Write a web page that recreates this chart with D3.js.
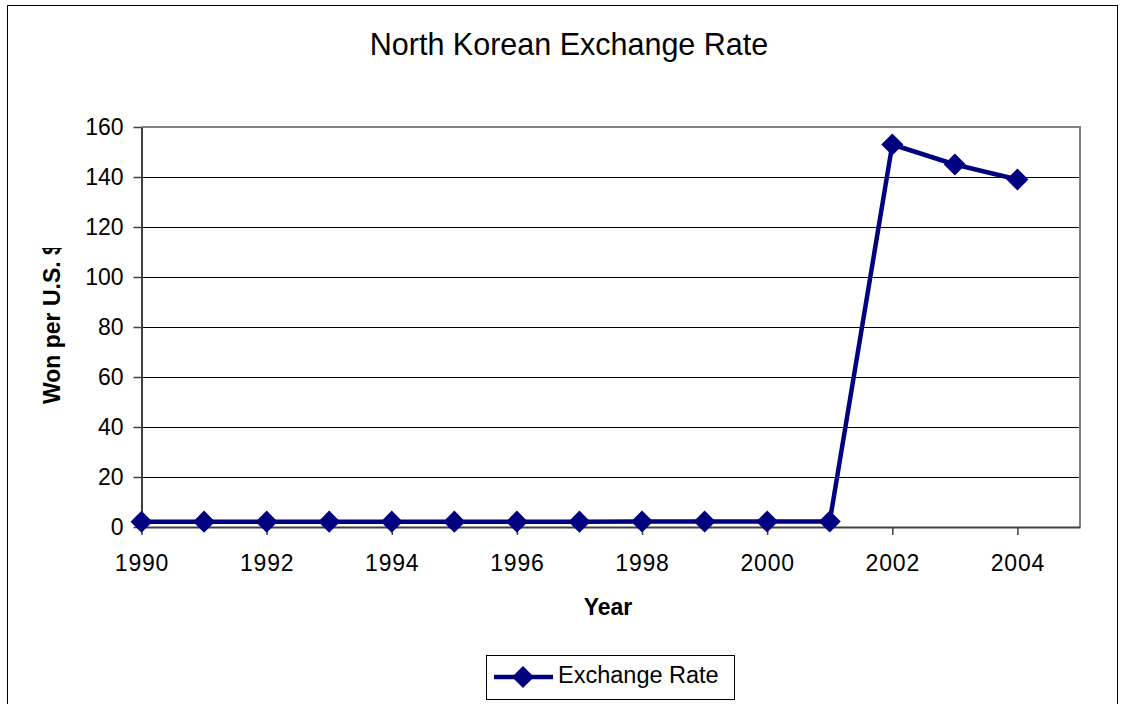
<!DOCTYPE html>
<html>
<head>
<meta charset="utf-8">
<script src="https://cdn.jsdelivr.net/npm/d3@7"></script>
<style>
body { margin:0; background:#fff; }
text { font-family: "Liberation Sans", Arial, sans-serif; }
</style>
</head>
<body>
<div id="chart"></div>
<script>

// Data

var years = [1990,1991,1992,1993,1994,1995,1996,1997,1998,1999,2000,2001,2002,2003,2004];
var rates = [2.1,2.15,2.15,2.15,2.15,2.15,2.15,2.15,2.2,2.17,2.19,2.2,153,145,139];
var yTicks = [0,20,40,60,80,100,120,140,160];
var xTicks = [1990,1992,1994,1996,1998,2000,2002,2004];

var W = 1121, H = 704;
var pLeft = 141.5, pRight = 1080, pTop = 127, pBottom = 527;
var navy = "#000080";

var svg = d3.select("#chart").append("svg")
	.attr("width",W).attr("height",H);

svg.append("rect").attr("width",W).attr("height",H).attr("fill","#fff");

// outer chart border
svg.append("rect").attr("x",7.5).attr("y",5.5).attr("width",1110).attr("height",720)
	.style("fill","none").style("stroke","#000").style("stroke-width",1);

var X = d3.scaleLinear().domain([1990,2005]).range([pLeft,pRight]);
var Y = d3.scaleLinear().domain([0,160]).range([pBottom,pTop]);

// gridlines
svg.selectAll(".grid").data(yTicks.filter(function(d){return d>0 && d<160})).enter().append("line")
	.attr("x1",pLeft).attr("x2",pRight)
	.attr("y1",function(d){return Math.round(Y(d))+0.5}).attr("y2",function(d){return Math.round(Y(d))+0.5})
	.style("stroke","#000").style("stroke-width",1);

// plot border top & right
svg.append("path").attr("d","M"+pLeft+","+pTop+"H"+pRight+"V"+pBottom)
	.style("fill","none").style("stroke","#808080").style("stroke-width",2);

// axes
var yAxis = svg.append("g").attr("transform","translate("+pLeft+",0)")
	.call(d3.axisLeft(Y).tickValues(yTicks).tickSize(8).tickPadding(10).tickSizeOuter(0));
var xAxis = svg.append("g").attr("transform","translate(0,"+pBottom+")")
	.call(d3.axisBottom(X).tickValues(xTicks).tickFormat(d3.format("d")).tickSize(8).tickPadding(20).tickSizeOuter(0));

[yAxis,xAxis].forEach(function(a){
	a.select(".domain").style("stroke","#404040").style("stroke-width",2);
	a.selectAll(".tick line").style("stroke","#404040").style("stroke-width",1.5);
	a.selectAll("text").style("font-family","'Liberation Sans', Arial, sans-serif")
		.style("font-size","23px").style("fill","#000");
});
xAxis.selectAll("text").style("letter-spacing","0.8px");

// line
var line = d3.line().x(function(d,i){return X(years[i])}).y(function(d){return Y(d)});
svg.append("path").datum(rates).attr("d",line)
	.style("fill","none").style("stroke",navy).style("stroke-width",4.5).style("stroke-linejoin","round");

// markers
var diamond = d3.symbol().type(d3.symbolDiamond2).size(310);
svg.selectAll(".pt").data(rates).enter().append("path")
	.attr("d",diamond)
	.attr("transform",function(d,i){return "translate("+X(years[i])+","+Y(d)+")"})
	.style("fill",navy);

// title
svg.append("text").attr("x",569).attr("y",55).attr("text-anchor","middle")
	.style("font-size","30.5px").text("North Korean Exchange Rate");

// axis titles
svg.append("text").attr("x",608).attr("y",615).attr("text-anchor","middle")
	.style("font-size","23px").style("font-weight","bold").text("Year");

svg.append("clipPath").attr("id","yclip").append("rect")
	.attr("x",0).attr("y",248).attr("width",120).attr("height",300);
svg.append("g").attr("clip-path","url(#yclip)")
	.append("text").attr("transform","translate(60,404)rotate(-90)")
	.style("font-size","23px").style("font-weight","bold").text("Won per U.S. $");

// legend
var lg = svg.append("g");
lg.append("rect").attr("x",486.5).attr("y",655.5).attr("width",248).attr("height",44)
	.style("fill","#fff").style("stroke","#000").style("stroke-width",1);
lg.append("line").attr("x1",494).attr("x2",553).attr("y1",677).attr("y2",677)
	.style("stroke",navy).style("stroke-width",4.5);
lg.append("path").attr("d",diamond).attr("transform","translate(523,677)").style("fill",navy);
lg.append("text").attr("x",558).attr("y",683).style("font-size","23.5px").text("Exchange Rate");

</script>
</body>
</html>
